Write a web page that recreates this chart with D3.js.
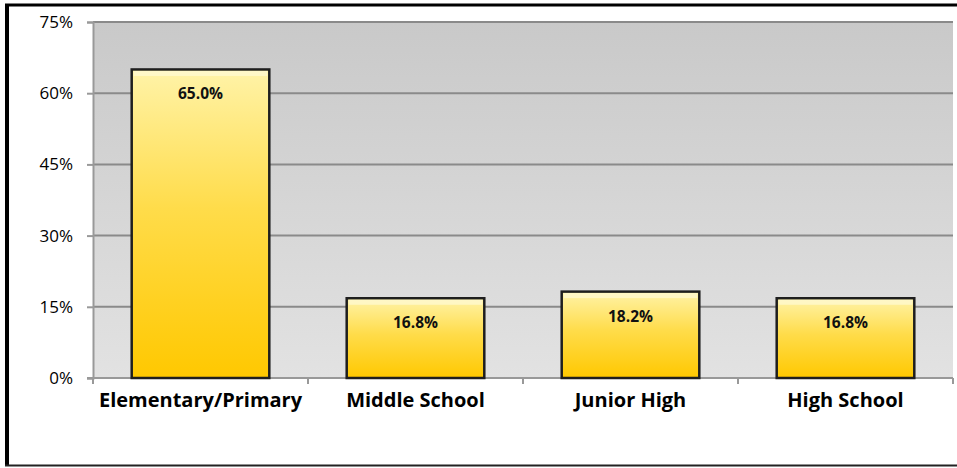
<!DOCTYPE html>
<html>
<head>
<meta charset="utf-8">
<script src="https://cdn.jsdelivr.net/npm/d3@7"></script>
<style>
  html, body { margin: 0; padding: 0; background: #fff; }
  svg { display: block; }
  text { font-family: "Open Sans", "Noto Sans", sans-serif; }
</style>
</head>
<body>
<svg id="chart" width="957" height="468"></svg>
<script>
// School level shares (percent)
const categories = ["Elementary/Primary", "Middle School", "Junior High", "High School"];
const values = [65.0, 16.8, 18.2, 16.8];
const yTicks = [0, 15, 30, 45, 60, 75];

const W = 957, H = 468;
const margin = { left: 93, right: 4, top: 22, bottom: 90 };
const svg = d3.select("#chart");
const defs = svg.append("defs");

// Plot-area background: grey fading lighter toward the bottom
const bg = defs.append("linearGradient").attr("id", "bgGrad")
  .attr("x1", 0).attr("y1", 0).attr("x2", 0).attr("y2", 1);
bg.append("stop").attr("offset", "0%").attr("stop-color", "#c9c9c9");
bg.append("stop").attr("offset", "100%").attr("stop-color", "#e2e2e2");

// Bar fill: pale yellow at the top to gold at the base
const bar = defs.append("linearGradient").attr("id", "barGrad")
  .attr("x1", 0).attr("y1", 0).attr("x2", 0).attr("y2", 1);
bar.append("stop").attr("offset", "0%").attr("stop-color", "#fff3a8");
bar.append("stop").attr("offset", "45%").attr("stop-color", "#ffdc4a");
bar.append("stop").attr("offset", "100%").attr("stop-color", "#ffc800");

// Outer frame
svg.append("line").attr("x1", 5).attr("x2", W).attr("y1", 5).attr("y2", 5)
  .attr("stroke", "#000").attr("stroke-width", 3);
svg.append("line").attr("x1", 7).attr("x2", 7).attr("y1", 4).attr("y2", 466)
  .attr("stroke", "#000").attr("stroke-width", 4);
svg.append("line").attr("x1", 5).attr("x2", W).attr("y1", 465.5).attr("y2", 465.5)
  .attr("stroke", "#222").attr("stroke-width", 2);

const x0 = margin.left, x1 = 953;
const yTop = margin.top, yBot = 378;

const x = d3.scaleBand().domain(categories).range([x0, x1]).paddingInner(0.36).paddingOuter(0.18);
const y = d3.scaleLinear().domain([0, 75]).range([yBot, yTop]);

const band = (x1 - x0) / categories.length;

svg.append("rect").attr("x", x0).attr("y", yTop).attr("width", x1 - x0).attr("height", yBot - yTop)
  .attr("fill", "url(#bgGrad)");

// Horizontal gridlines
svg.append("g").selectAll("line").data(yTicks.filter(d => d > 0)).join("line")
  .attr("x1", x0).attr("x2", x1).attr("y1", d => y(d)).attr("y2", d => y(d))
  .attr("stroke", "#8a8a8a").attr("stroke-width", 2);

// Y axis
const yAxis = d3.axisLeft(y).tickValues(yTicks).tickFormat(d => d + "%").tickSize(6).tickPadding(14);
const ga = svg.append("g").attr("transform", `translate(${x0},0)`).call(yAxis);
ga.select(".domain").attr("stroke", "#999").attr("stroke-width", 2);
ga.selectAll(".tick line").attr("stroke", "#999").attr("stroke-width", 2);
ga.selectAll(".tick text").attr("font-size", 17).attr("fill", "#000")
  .style("font-family", "'Open Sans', sans-serif");

// X baseline with category boundary ticks
svg.append("line").attr("x1", x0 - 6).attr("x2", x1).attr("y1", yBot).attr("y2", yBot)
  .attr("stroke", "#999").attr("stroke-width", 2);
svg.append("g").selectAll("line").data(d3.range(categories.length + 1)).join("line")
  .attr("x1", i => x0 + i * band).attr("x2", i => x0 + i * band)
  .attr("y1", yBot).attr("y2", yBot + 6)
  .attr("stroke", "#999").attr("stroke-width", 2);

// Bars
const g = svg.append("g");
const data = categories.map((c, i) => ({ c, v: values[i] }));
g.selectAll("rect.bar").data(data).join("rect").attr("class", "bar")
  .attr("x", d => x(d.c)).attr("width", x.bandwidth())
  .attr("y", d => y(d.v)).attr("height", d => y(0) - y(d.v))
  .attr("fill", "url(#barGrad)").attr("stroke", "#1e1e1e").attr("stroke-width", 2.5);
// Soft bevel highlight along the top edge
g.selectAll("rect.hl").data(data).join("rect").attr("class", "hl")
  .attr("x", d => x(d.c) + 2).attr("width", x.bandwidth() - 4)
  .attr("y", d => y(d.v) + 1.5).attr("height", 5)
  .attr("fill", "#fffbe0").attr("opacity", 0.6);

// Value labels
g.selectAll("text.val").data(data).join("text").attr("class", "val")
  .attr("x", d => x(d.c) + x.bandwidth() / 2).attr("y", d => y(d.v) + 30)
  .attr("text-anchor", "middle").attr("font-size", 15.5).attr("font-weight", "bold")
  .attr("fill", "#111").text(d => d.v.toFixed(1) + "%");

// Category labels
svg.append("g").selectAll("text").data(categories).join("text")
  .attr("x", c => x(c) + x.bandwidth() / 2).attr("y", 407)
  .attr("text-anchor", "middle").attr("font-size", 20).attr("font-weight", "bold")
  .attr("fill", "#000").text(c => c);
</script>
</body>
</html>
